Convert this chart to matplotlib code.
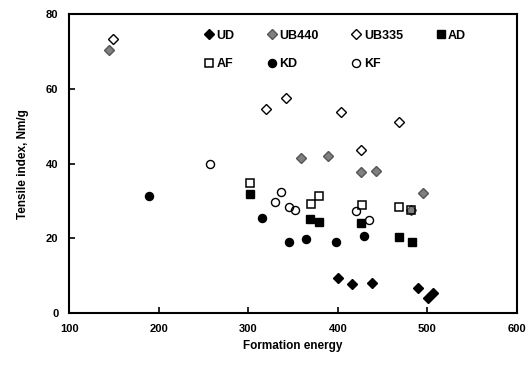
import matplotlib
matplotlib.use('Agg')
import matplotlib.pyplot as plt

# Formation energy (x) and tensile index (y) for each furnish
ud_x = [400, 416, 438, 490, 501, 506]
ud_y = [9.4, 7.8, 8.1, 6.8, 4.0, 5.5]

ub440_x = [144, 359, 389, 426, 443, 482, 495]
ub440_y = [70.5, 41.6, 42.1, 37.7, 37.9, 27.5, 32.1]

ub335_x = [149, 320, 342, 404, 426, 468]
ub335_y = [73.3, 54.7, 57.6, 53.9, 43.5, 51.1]

ad_x = [302, 369, 379, 426, 468, 483]
ad_y = [31.9, 25.2, 24.3, 24.2, 20.3, 19.1]

af_x = [302, 370, 379, 427, 468, 482]
af_y = [34.9, 29.1, 31.2, 29.0, 28.5, 27.6]

kd_x = [189, 315, 345, 364, 398, 429]
kd_y = [31.4, 25.4, 19.1, 19.8, 19.1, 20.7]

kf_x = [257, 330, 336, 345, 352, 420, 435]
kf_y = [39.9, 29.6, 32.4, 28.3, 27.6, 27.4, 24.9]

x_ticks = [100, 200, 300, 400, 500, 600]
y_ticks = [0, 20, 40, 60, 80]

plt.rcParams['font.family'] = ['Liberation Sans', 'DejaVu Sans']
plt.rcParams['font.weight'] = 'bold'

fig = plt.figure(figsize=(5.3, 3.68), dpi=100)
ax = fig.add_axes([0.131, 0.149, 0.844, 0.813])

h_ud, = ax.plot(ud_x, ud_y, 'D', ms=4.8, mfc='black', mec='black', label='UD')
h_ub440, = ax.plot(ub440_x, ub440_y, 'D', ms=4.8, mfc='#808080', mec='#555555', label='UB440')
h_ub335, = ax.plot(ub335_x, ub335_y, 'D', ms=5, mfc='white', mec='black', mew=1.0, label='UB335')
h_ad, = ax.plot(ad_x, ad_y, 's', ms=5.5, mfc='black', mec='black', label='AD')
h_af, = ax.plot(af_x, af_y, 's', ms=6, mfc='none', mec='black', mew=1.1, label='AF')
h_kd, = ax.plot(kd_x, kd_y, 'o', ms=5.8, mfc='black', mec='black', label='KD')
h_kf, = ax.plot(kf_x, kf_y, 'o', ms=5.8, mfc='none', mec='black', mew=1.0, label='KF')

# reorder so the legend fills row by row
handles = [h_ud, h_af, h_ub440, h_kd, h_ub335, h_kf, h_ad]
ax.legend(handles=handles, ncol=4, loc='upper left', bbox_to_anchor=(0.27, 0.985),
          frameon=False, handletextpad=0.0, columnspacing=2.4, labelspacing=1.3,
          handlelength=1.2, prop={'size': 9, 'weight': 'bold'})

ax.set_xlim(100, 600)
ax.set_ylim(0, 80)
ax.set_xticks(x_ticks)
ax.set_yticks(y_ticks)
ax.tick_params(direction='in', length=4, width=1.2, labelsize=8, pad=8)
for sp in ax.spines.values():
    sp.set_linewidth(1.5)

ax.set_xlabel('Formation energy', fontsize=8.5, fontweight='bold', labelpad=4)
ax.set_ylabel('Tensile index, Nm/g', fontsize=8.5, fontweight='bold', labelpad=12)

plt.savefig('out.png', dpi=100)
